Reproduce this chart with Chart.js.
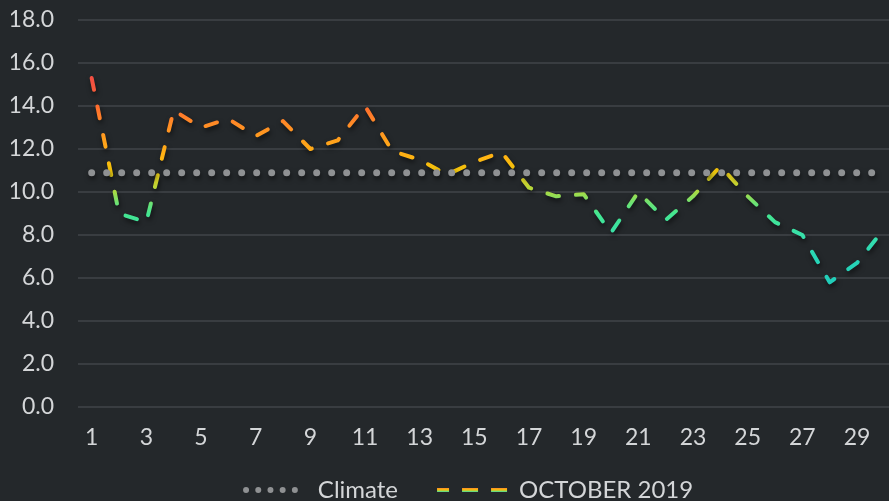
<!DOCTYPE html>
<html>
<head>
<meta charset="utf-8">
<script src="https://cdn.jsdelivr.net/npm/chart.js@4/dist/chart.umd.min.js"></script>
<style>
  html, body { margin: 0; padding: 0; background: #24282b; overflow: hidden; }
  #wrap { position: relative; width: 927px; height: 501px; }
</style>
</head>
<body>
<div id="wrap"><canvas id="c"></canvas></div>
<script>
// ---- data ----
const days = ['1','2','3','4','5','6','7','8','9','10','11','12','13','14','15','16','17','18','19','20','21','22','23','24','25','26','27','28','29','30'];
const october2019 = [15.3, 9.0, 8.6, 13.8, 13.0, 13.4, 12.6, 13.3, 12.0, 12.4, 14.0, 11.9, 11.5, 10.8, 11.4, 11.85, 10.2, 9.8, 9.9, 8.1, 10.0, 8.7, 9.8, 11.2, 9.8, 8.6, 8.0, 5.8, 6.7, 8.3];
const climate = [10.9, 10.9, 10.9, 10.9, 10.9, 10.9, 10.9, 10.9, 10.9, 10.9, 10.9, 10.9, 10.9, 10.9, 10.9, 10.9, 10.9, 10.9, 10.9, 10.9, 10.9, 10.9, 10.9, 10.9, 10.9, 10.9, 10.9, 10.9, 10.9, 10.9];
const yTicks = [0, 2, 4, 6, 8, 10, 12, 14, 16, 18];
const seriesNames = ['Climate', 'OCTOBER 2019'];

// colour stops by value (value -> colour)
const gradStops = [
  [16, '#f04848'], [15, '#f4533f'], [14, '#ff6c2e'], [13.2, '#ff8a26'], [12.4, '#ffa01c'],
  [11.6, '#ffb412'], [11, '#f2c40a'], [10.5, '#cfd02a'], [10, '#a8da44'], [9.5, '#6ee272'],
  [9, '#44e690'], [8, '#38e0aa'], [7, '#28d6b6'], [5, '#1cc8bc']
];

const TEXT = '#d4d6d8';
const FONT = 'Lato, "Open Sans", sans-serif';
const LEGEND_SIZE = 24;
const LEGEND_PAD = 39;
const LEGEND_CENTER_Y = 490;
const LEGEND_SHIFT_X = 10;

function lineGradient(context) {
  const chart = context.chart;
  const area = chart.chartArea;
  if (!area) return '#ffb412';
  const y = chart.scales.y;
  const top = y.getPixelForValue(gradStops[0][0]);
  const bot = y.getPixelForValue(gradStops[gradStops.length - 1][0]);
  const g = chart.ctx.createLinearGradient(0, top, 0, bot);
  const span = gradStops[0][0] - gradStops[gradStops.length - 1][0];
  gradStops.forEach(([v, c]) => g.addColorStop((gradStops[0][0] - v) / span, c));
  return g;
}

const shadowPlugin = {
  id: 'shadow',
  beforeDatasetsDraw(chart) {
    const ctx = chart.ctx;
    ctx.save();
    ctx.shadowColor = 'rgba(0,0,0,0.55)';
    ctx.shadowBlur = 5;
    ctx.shadowOffsetX = 1;
    ctx.shadowOffsetY = 3;
  },
  afterDatasetsDraw(chart) { chart.ctx.restore(); }
};

const legendPlugin = {
  id: 'legendTweak',
  beforeLayout(chart) {
    const lg = chart.legend;
    if (lg && !lg._patched) {
      const orig = lg.fit.bind(lg);
      lg.fit = function () { orig(); this.height = 49; };
      lg._patched = true;
    }
  },
  afterLayout(chart) {
    const lg = chart.legend;
    if (!lg) return;
    lg.left += LEGEND_SHIFT_X;
    lg.right += LEGEND_SHIFT_X;
    lg.top = LEGEND_CENTER_Y - LEGEND_PAD - LEGEND_SIZE / 2;
    lg.bottom = chart.height;
    lg.height = lg.bottom - lg.top;
  },
  beforeDraw(chart) {
    const lg = chart.legend;
    if (!lg || !lg.legendItems || lg.legendItems.length < 2) return;
    const cy = lg.top + LEGEND_PAD + LEGEND_SIZE / 2;
    const g = chart.ctx.createLinearGradient(0, cy - 2, 0, cy + 2);
    g.addColorStop(0, '#ff8a26');
    g.addColorStop(0.5, '#f2c40a');
    g.addColorStop(1, '#3ae0a6');
    lg.legendItems[1].strokeStyle = g;
  }
};

new Chart(document.getElementById('c'), {
  type: 'line',
  data: {
    labels: days,
    datasets: [
      {
        label: seriesNames[0],
        data: climate,
        borderColor: '#8f9193',
        borderWidth: 7,
        borderDash: [0, 15],
        borderCapStyle: 'round',
        pointRadius: 0,
        fill: false,
        tension: 0
      },
      {
        label: seriesNames[1],
        data: october2019,
        borderColor: lineGradient,
        borderWidth: 4,
        borderDash: [12, 17],
        borderCapStyle: 'round',
        borderJoinStyle: 'round',
        pointRadius: 0,
        fill: false,
        tension: 0
      }
    ]
  },
  options: {
    responsive: true,
    maintainAspectRatio: false,
    animation: false,
    layout: { padding: { left: 11, right: 29, top: 0, bottom: 0 } },
    plugins: {
      tooltip: { enabled: false },
      legend: {
        position: 'bottom',
        labels: {
          color: TEXT,
          font: { family: FONT, size: LEGEND_SIZE },
          usePointStyle: true,
          pointStyleWidth: 70,
          padding: LEGEND_PAD,
          generateLabels(chart) {
            return [
              { text: seriesNames[0], fontColor: TEXT, pointStyle: 'line', strokeStyle: '#8f9193', fillStyle: 'rgba(0,0,0,0)', lineWidth: 6, lineDash: [0, 12.2], lineDashOffset: 2, lineCap: 'round', datasetIndex: 0 },
              { text: seriesNames[1], fontColor: TEXT, pointStyle: 'line', strokeStyle: '#ffb412', fillStyle: 'rgba(0,0,0,0)', lineWidth: 4, lineDash: [16, 13], lineDashOffset: 4, lineCap: 'butt', datasetIndex: 1 }
            ];
          }
        }
      }
    },
    scales: {
      x: {
        offset: true,
        grid: { display: false, drawTicks: false },
        border: { display: false },
        afterFit: (axis) => { axis.height = 45; },
        ticks: {
          color: TEXT,
          font: { family: FONT, size: 23 },
          autoSkip: false,
          maxRotation: 0,
          padding: 17,
          callback: (v, i) => (i % 2 === 0 ? days[i] : '')
        }
      },
      y: {
        min: yTicks[0],
        max: yTicks[yTicks.length - 1],
        afterBuildTicks: (axis) => { axis.ticks = yTicks.map(v => ({ value: v })); },
        afterFit: (axis) => { axis.width = 67; axis.paddingTop = 20; axis.paddingBottom = 0; },
        grid: { color: '#393d41', lineWidth: 2, drawTicks: false },
        border: { display: false },
        ticks: {
          color: TEXT,
          font: { family: FONT, size: 23 },
          padding: 24,
          callback: (v) => Number(v).toFixed(1)
        }
      }
    }
  },
  plugins: [shadowPlugin, legendPlugin]
});
</script>
</body>
</html>
